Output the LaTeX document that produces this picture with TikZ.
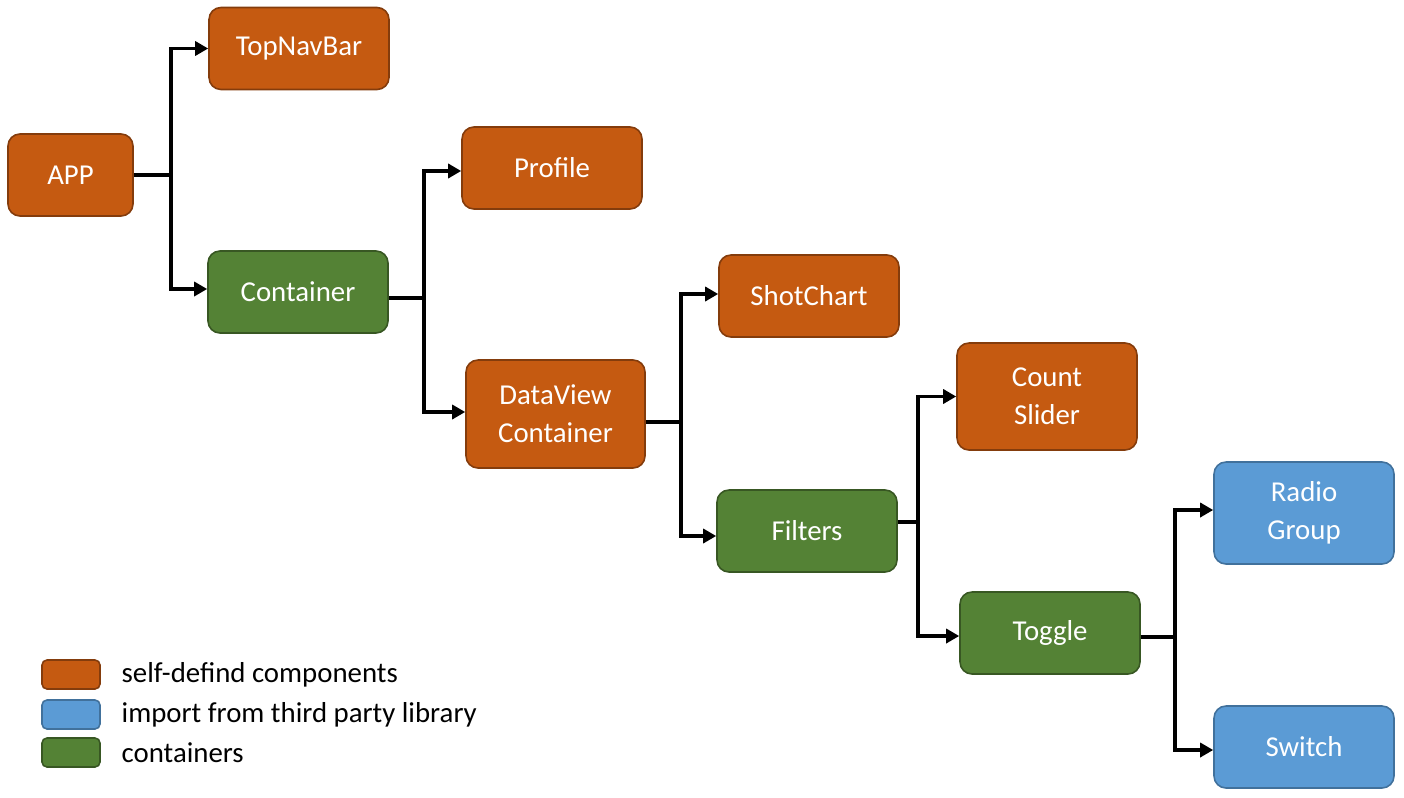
\documentclass[tikz,border=0pt]{standalone}
\usepackage{fontspec}
\setmainfont{Carlito}
\usetikzlibrary{arrows.meta}
\definecolor{selfcol}{HTML}{C55A11}
\definecolor{selfline}{HTML}{843C0C}
\definecolor{libcol}{HTML}{5B9BD5}
\definecolor{libline}{HTML}{41719C}
\definecolor{contcol}{HTML}{548235}
\definecolor{contline}{HTML}{385723}
\begin{document}
\begin{tikzpicture}[
  box/.style={rectangle, rounded corners=0.12cm, line width=0.45pt, text=white,
    minimum width=1.8cm, minimum height=0.82cm, align=center,
    font=\fontsize{8.2}{10.8}\selectfont},
  self/.style={box, fill=selfcol, draw=selfline},
  lib/.style={box, fill=libcol, draw=libline},
  cont/.style={box, fill=contcol, draw=contline},
  key/.style={rectangle, rounded corners=0.05cm, line width=0.45pt,
    minimum width=0.58cm, minimum height=0.29cm, inner sep=0pt},
  keytext/.style={anchor=west, inner sep=0pt, font=\fontsize{8.2}{9.6}\selectfont},
  link/.style={line width=1pt},
  tolink/.style={link, -{Triangle[length=0.13cm,width=0.14cm]}}
]
\useasboundingbox (0,0) rectangle (14.04,-7.97);

\node[self, minimum width=1.25cm] (app) at (0.705,-1.75) {APP};
\node[self] (topnav) at (2.99,-0.485) {TopNavBar};
\node[cont] (container) at (2.98,-2.92) {Container};
\node[self] (profile) at (5.52,-1.68) {Profile};
\node[self, minimum width=1.79cm, minimum height=1.08cm] (dataview) at (5.555,-4.14) {DataView\\Container};
\node[self] (shotchart) at (8.09,-2.96) {ShotChart};
\node[self, minimum height=1.07cm] (count) at (10.47,-3.965) {Count\\Slider};
\node[cont] (filters) at (8.07,-5.31) {Filters};
\node[lib, minimum height=1.02cm] (radio) at (13.04,-5.13) {Radio\\Group};
\node[cont] (toggle) at (10.50,-6.33) {Toggle};
\node[lib] (switch) at (13.04,-7.47) {Switch};

% tree links
\draw[link] (app.east) -- ++(0.37,0) coordinate (j1);
\draw[tolink] (j1) |- (topnav.west);
\draw[tolink] ([yshift=0.03cm]j1) |- ([yshift=0.03cm]container.west);

\draw[link] ([yshift=-0.06cm]container.east) -- ++(0.35,0) coordinate (j2);
\draw[tolink] (j2) |- ([yshift=-0.03cm]profile.west);
\draw[tolink] (j2) |- ([yshift=0.02cm]dataview.west);

\draw[link] ([yshift=-0.08cm]dataview.east) -- ++(0.35,0) coordinate (j3);
\draw[tolink] (j3) |- ([yshift=0.02cm]shotchart.west);
\draw[tolink] (j3) |- ([yshift=-0.05cm]filters.west);

\draw[link] ([yshift=0.09cm]filters.east) -- ++(0.2,0) coordinate (j4);
\draw[tolink] (j4) |- (count.west);
\draw[tolink] (j4) |- ([yshift=-0.03cm]toggle.west);

\draw[link] ([yshift=-0.04cm]toggle.east) -- ++(0.34,0) coordinate (j5);
\draw[tolink] (j5) |- ([yshift=0.03cm]radio.west);
\draw[tolink] (j5) |- ([yshift=-0.03cm]switch.west);

% legend
\node[key, fill=selfcol, draw=selfline] (keyself) at (0.71,-6.745) {};
\node[key, fill=libcol, draw=libline] (keylib) at (0.71,-7.145) {};
\node[key, fill=contcol, draw=contline] (keycont) at (0.71,-7.525) {};
\node[keytext] (txtself) at (1.21,-6.745) {self-defind components};
\node[keytext] (txtlib) at (1.21,-7.145) {import from third party library};
\node[keytext] (txtcont) at (1.21,-7.525) {containers};
\end{tikzpicture}
\end{document}
